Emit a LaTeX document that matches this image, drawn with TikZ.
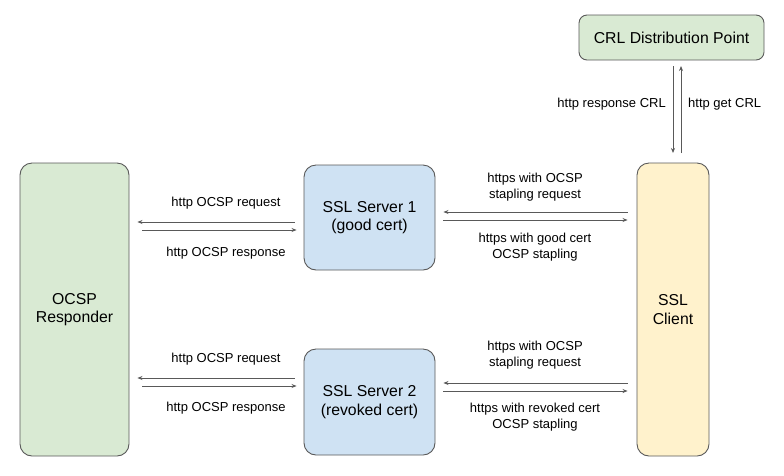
\documentclass[tikz,border=0pt]{standalone}
\usepackage{fontspec}
\setmainfont{Liberation Sans}
\usetikzlibrary{arrows.meta}
\definecolor{gfill}{HTML}{D9EAD3}
\definecolor{bfill}{HTML}{CFE2F3}
\definecolor{yfill}{HTML}{FFF2CC}
\definecolor{edge}{HTML}{595959}
\tikzset{
  box/.style={draw=edge, line width=0.9pt, rounded corners=12pt, align=center, font=\fontsize{15.8}{18.5}\selectfont, inner sep=0pt},
  lbl/.style={align=center, font=\fontsize{13}{15.5}\selectfont, inner sep=0pt},
  arr/.style={draw=edge, line width=0.8pt, -{Stealth[length=5pt,width=4pt]}}
}
\begin{document}
\begin{tikzpicture}[x=1pt,y=-1pt]
\useasboundingbox (0,0) rectangle (784,475);
% boxes
\node[box, fill=gfill, minimum width=109pt, minimum height=293pt] (ocsp) at (74.5,309.5) {OCSP\\Responder};
\node[box, fill=bfill, minimum width=131pt, minimum height=105pt] (s1) at (369.5,217.5) {SSL Server 1\\(good cert)};
\node[box, fill=bfill, minimum width=131pt, minimum height=106pt] (s2) at (369.5,402) {SSL Server 2\\(revoked cert)};
\node[box, fill=yfill, minimum width=72pt, minimum height=293pt] (cli) at (673,309.5) {SSL\\Client};
\node[box, fill=gfill, rounded corners=8pt, minimum width=185pt, minimum height=45pt] (crl) at (671.5,37.5) {CRL Distribution Point};
% coordinates for arrow ends
\coordinate (o1a) at (ocsp.east |- 0,222); \coordinate (o1b) at (ocsp.east |- 0,230);
\coordinate (o2a) at (ocsp.east |- 0,378); \coordinate (o2b) at (ocsp.east |- 0,386);
% server1 <-> ocsp
\draw[arr] ([xshift=-9pt]s1.west |- 0,222) -- ([xshift=8pt]o1a);
\draw[arr] ([xshift=13pt]o1b) -- ([xshift=-7pt]s1.west |- 0,230);
\node[lbl] (l1) at (226,203) {http OCSP request};
\node[lbl] (l2) at (226,253) {http OCSP response};
% server2 <-> ocsp
\draw[arr] ([xshift=-9pt]s2.west |- 0,378) -- ([xshift=8pt]o2a);
\draw[arr] ([xshift=13pt]o2b) -- ([xshift=-7pt]s2.west |- 0,386);
\node[lbl] (l3) at (226,359) {http OCSP request};
\node[lbl] (l4) at (226,408) {http OCSP response};
% client <-> server1
\draw[arr] ([xshift=-9pt]cli.west |- 0,212) -- ([xshift=8pt]s1.east |- 0,212);
\draw[arr] ([xshift=8pt]s1.east |- 0,220) -- ([xshift=-9pt]cli.west |- 0,220);
\node[lbl] (l5) at (535,187) {https with OCSP\\stapling request};
\node[lbl] (l6) at (535,247) {https with good cert\\OCSP stapling};
% client <-> server2
\draw[arr] ([xshift=-9pt]cli.west |- 0,383) -- ([xshift=8pt]s2.east |- 0,383);
\draw[arr] ([xshift=8pt]s2.east |- 0,391) -- ([xshift=-9pt]cli.west |- 0,391);
\node[lbl] (l7) at (535,355) {https with OCSP\\stapling request};
\node[lbl] (l8) at (535,417) {https with revoked cert\\OCSP stapling};
% crl <-> client
\draw[arr] (673,66) -- (673,153);
\draw[arr] (681,153) -- (681,66);
\node[lbl, anchor=east] (l9) at (666,104) {http response CRL};
\node[lbl, anchor=west] (l10) at (688,104) {http get CRL};
\end{tikzpicture}
\end{document}
